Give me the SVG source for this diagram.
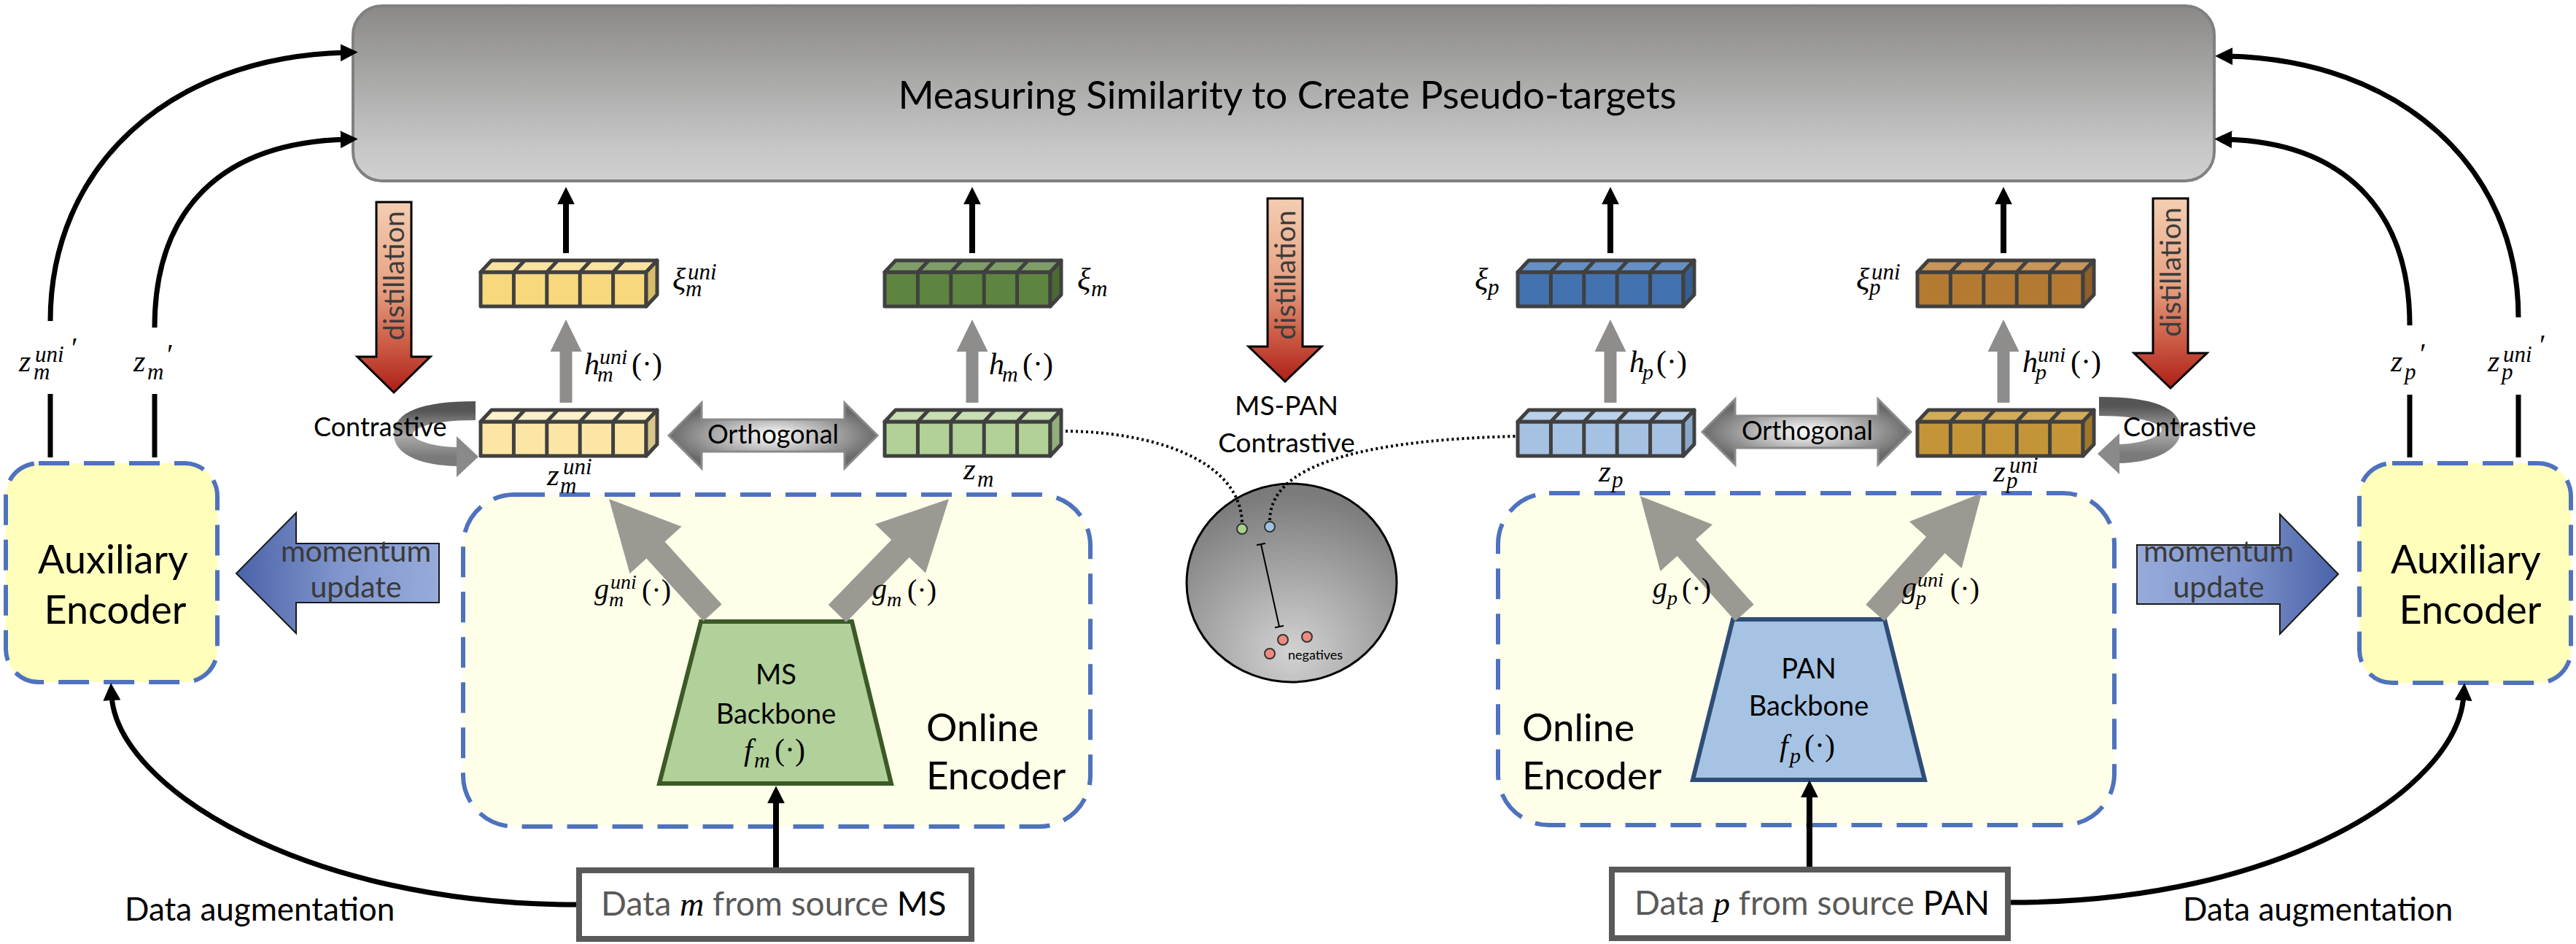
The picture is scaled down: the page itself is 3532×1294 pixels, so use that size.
<svg xmlns="http://www.w3.org/2000/svg" width="3532" height="1294" viewBox="0 0 3532 1294">
<defs>
<style>
text{font-family:Lato,"Open Sans","Liberation Sans",sans-serif;fill:#000;}
.m{font-family:"Liberation Serif","DejaVu Serif",serif;font-style:italic;}
.n{font-style:normal;}
.cube rect,.cube polygon{stroke:#404040;stroke-width:5;stroke-linejoin:round;}
.div{stroke:#404040;stroke-width:5;fill:none;}
.dash{stroke:#4F72BE;stroke-width:6;stroke-dasharray:42 20;}
.curve{fill:none;stroke:#000;stroke-width:7;marker-end:url(#ah);}
.stem{fill:none;stroke:#000;stroke-width:8;marker-end:url(#ah);}
.line{fill:none;stroke:#000;stroke-width:7;}
.garr{fill:#9C9993;}
.harr{fill:#8F8D8B;}
.dist{fill:url(#gDist);stroke:#000;stroke-width:3;}
.distT{font-size:39px;fill:#3c3c3c;}
.dot{fill:none;stroke:#000;stroke-width:4;stroke-dasharray:3 4;}
.orth{fill:url(#gOrth);stroke:#8a8a8a;stroke-width:3;}
.contr{fill:none;stroke:url(#gContr);stroke-width:26;}
.contrH{fill:#8a8a8a;}
.mom{stroke:#1a1a1a;stroke-width:2;}
.momT{font-size:41px;fill:#3a3a3a;}
.dataT{font-size:46px;fill:#595959;}
</style>
<marker id="ah" viewBox="0 0 10 10" refX="3" refY="5" markerWidth="24" markerHeight="24" markerUnits="userSpaceOnUse" orient="auto"><path d="M0,0L10,5L0,10z" fill="#000"/></marker>
<linearGradient id="gMain" x1="0" y1="0" x2="0" y2="1"><stop offset="0" stop-color="#8a8987"/><stop offset="0.8" stop-color="#c6c6c6"/><stop offset="1" stop-color="#d0d0d0"/></linearGradient>
<linearGradient id="gDist" x1="0" y1="0" x2="0" y2="1"><stop offset="0" stop-color="#F4CEB2"/><stop offset="0.45" stop-color="#E6A283"/><stop offset="0.75" stop-color="#CB5B45"/><stop offset="1" stop-color="#AE1F17"/></linearGradient>
<linearGradient id="gMomL" x1="0" y1="0" x2="1" y2="0"><stop offset="0" stop-color="#4A63A8"/><stop offset="0.5" stop-color="#8095CC"/><stop offset="1" stop-color="#97ABDA"/></linearGradient>
<linearGradient id="gMomR" x1="1" y1="0" x2="0" y2="0"><stop offset="0" stop-color="#4A63A8"/><stop offset="0.5" stop-color="#8095CC"/><stop offset="1" stop-color="#97ABDA"/></linearGradient>
<radialGradient id="gOrth" cx="0.5" cy="0.5" r="0.5"><stop offset="0" stop-color="#ffffff"/><stop offset="1" stop-color="#6a6a6a"/></radialGradient>
<linearGradient id="gContr" x1="0" y1="0" x2="0" y2="1"><stop offset="0" stop-color="#555555"/><stop offset="0.55" stop-color="#aaaaaa"/><stop offset="1" stop-color="#7a7a7a"/></linearGradient>
<radialGradient id="gSphere" cx="0.5" cy="0.85" r="0.8"><stop offset="0" stop-color="#d2d2d2"/><stop offset="1" stop-color="#7b7b7b"/></radialGradient>
<path id="cdiv" d="M45.4 0V47M90.8 0V47M136.2 0V47M181.6 0V47M45.4 0L60.4 -16M90.8 0L105.8 -16M136.2 0L151.2 -16M181.6 0L196.6 -16"/>
</defs>
<rect width="3532" height="1294" fill="#fff"/>

<g id="similarity">
<rect x="484" y="8" width="2552" height="240" rx="40" fill="url(#gMain)" stroke="#808080" stroke-width="4"/>
<text x="1765" y="149" font-size="53" text-anchor="middle">Measuring Similarity to Create Pseudo-targets</text>
</g>

<g id="aux_ms">
<rect x="8" y="635" width="290" height="300" rx="45" fill="#FFFFBB" class="dash"/>
<text x="155" y="786" font-size="54" text-anchor="middle">Auxiliary</text>
<text x="158" y="855" font-size="54" text-anchor="middle">Encoder</text>
</g>
<g id="aux_pan">
<rect x="3235" y="635" width="290" height="301" rx="45" fill="#FFFFBB" class="dash"/>
<text x="3381" y="786" font-size="54" text-anchor="middle">Auxiliary</text>
<text x="3387" y="855" font-size="54" text-anchor="middle">Encoder</text>
</g>

<g id="online_ms">
<rect x="635" y="678" width="860" height="455" rx="70" fill="#FEFEE9" class="dash"/>
<text x="1270" y="1016" font-size="53">Online</text>
<text x="1270" y="1082" font-size="53">Encoder</text>
</g>
<g id="online_pan">
<rect x="2054" y="676" width="845" height="455" rx="70" fill="#FEFEE9" class="dash"/>
<text x="2087" y="1016" font-size="53">Online</text>
<text x="2087" y="1082" font-size="53">Encoder</text>
</g>

<g id="backbone_ms">
<polygon points="961,852 1168,852 1222,1074 904,1074" fill="#B2D09A" stroke="#3B5A26" stroke-width="6"/>
<text x="1064" y="938" font-size="38" text-anchor="middle">MS</text>
<text x="1064" y="992" font-size="38" text-anchor="middle">Backbone</text>
<text class="m" font-size="42"><tspan x="1020" y="1042">f</tspan><tspan x="1034" y="1052" font-size="30">m</tspan><tspan class="n" x="1062" y="1042">(·)</tspan></text>
</g>
<g id="backbone_pan">
<polygon points="2376,849 2584,849 2639,1069 2321,1069" fill="#A7C3E3" stroke="#2E4E78" stroke-width="6"/>
<text x="2480" y="930" font-size="38" text-anchor="middle">PAN</text>
<text x="2480" y="981" font-size="38" text-anchor="middle">Backbone</text>
<text class="m" font-size="42"><tspan x="2440" y="1036">f</tspan><tspan x="2454" y="1046" font-size="30">p</tspan><tspan class="n" x="2474" y="1036">(·)</tspan></text>
</g>

<g id="data_ms">
<rect x="794" y="1193" width="538" height="94" fill="#fff" stroke="#595959" stroke-width="8"/>
<text x="824" y="1255" class="dataT"><tspan>Data </tspan><tspan class="m" fill="#000">m</tspan><tspan> from source </tspan><tspan fill="#000">MS</tspan></text>
</g>
<g id="data_pan">
<rect x="2210" y="1192" width="543" height="94" fill="#fff" stroke="#595959" stroke-width="8"/>
<text x="2241" y="1254" class="dataT"><tspan>Data </tspan><tspan class="m" fill="#000">p</tspan><tspan> from source </tspan><tspan fill="#000">PAN</tspan></text>
</g>

<g id="xi_m_uni">
<g class="cube" transform="translate(659,373)">
<rect width="227" height="47" fill="#F7D87C"/>
<polygon points="0,0 15,-16 242,-16 227,0" fill="#FAE3A1"/>
<polygon points="227,0 242,-16 242,31 227,47" fill="#D9BC6A"/>
<use href="#cdiv" class="div"/>
</g>
<text class="m" font-size="43"><tspan x="922" y="397">ξ</tspan><tspan x="943" y="383" font-size="31">uni</tspan><tspan x="940" y="406" font-size="31">m</tspan></text>
</g>
<g id="z_m_uni">
<g class="cube" transform="translate(659,578)">
<rect width="227" height="47" fill="#FBE6A6"/>
<polygon points="0,0 15,-16 242,-16 227,0" fill="#FDF0CA"/>
<polygon points="227,0 242,-16 242,31 227,47" fill="#D9C58A"/>
<use href="#cdiv" class="div"/>
</g>
<text class="m" font-size="43"><tspan x="750" y="665">z</tspan><tspan x="772" y="650" font-size="31">uni</tspan><tspan x="768" y="676" font-size="31">m</tspan></text>
</g>
<g id="xi_m">
<g class="cube" transform="translate(1213,373)">
<rect width="227" height="47" fill="#5E853F"/>
<polygon points="0,0 15,-16 242,-16 227,0" fill="#7F9D68"/>
<polygon points="227,0 242,-16 242,31 227,47" fill="#4A6A31"/>
<use href="#cdiv" class="div"/>
</g>
<text class="m" font-size="43"><tspan x="1477" y="397">ξ</tspan><tspan x="1496" y="406" font-size="31">m</tspan></text>
</g>
<g id="z_m">
<g class="cube" transform="translate(1213,578)">
<rect width="227" height="47" fill="#B1D196"/>
<polygon points="0,0 15,-16 242,-16 227,0" fill="#C8DFB4"/>
<polygon points="227,0 242,-16 242,31 227,47" fill="#92AE7B"/>
<use href="#cdiv" class="div"/>
</g>
<text class="m" font-size="43"><tspan x="1321" y="657">z</tspan><tspan x="1340" y="667" font-size="31">m</tspan></text>
</g>
<g id="xi_p">
<g class="cube" transform="translate(2081,373)">
<rect width="227" height="47" fill="#4372B0"/>
<polygon points="0,0 15,-16 242,-16 227,0" fill="#6690C4"/>
<polygon points="227,0 242,-16 242,31 227,47" fill="#355E92"/>
<use href="#cdiv" class="div"/>
</g>
<text class="m" font-size="43"><tspan x="2022" y="397">ξ</tspan><tspan x="2040" y="404" font-size="31">p</tspan></text>
</g>
<g id="z_p">
<g class="cube" transform="translate(2081,578)">
<rect width="227" height="47" fill="#A6C2E2"/>
<polygon points="0,0 15,-16 242,-16 227,0" fill="#BAD1EB"/>
<polygon points="227,0 242,-16 242,31 227,47" fill="#8AA7C9"/>
<use href="#cdiv" class="div"/>
</g>
<text class="m" font-size="43"><tspan x="2192" y="660">z</tspan><tspan x="2210" y="668" font-size="31">p</tspan></text>
</g>
<g id="xi_p_uni">
<g class="cube" transform="translate(2629,373)">
<rect width="227" height="47" fill="#B47A32"/>
<polygon points="0,0 15,-16 242,-16 227,0" fill="#C8955A"/>
<polygon points="227,0 242,-16 242,31 227,47" fill="#8F5F27"/>
<use href="#cdiv" class="div"/>
</g>
<text class="m" font-size="43"><tspan x="2545" y="397">ξ</tspan><tspan x="2566" y="383" font-size="31">uni</tspan><tspan x="2563" y="404" font-size="31">p</tspan></text>
</g>
<g id="z_p_uni">
<g class="cube" transform="translate(2629,578)">
<rect width="227" height="47" fill="#C49538"/>
<polygon points="0,0 15,-16 242,-16 227,0" fill="#D3AC5A"/>
<polygon points="227,0 242,-16 242,31 227,47" fill="#9E772A"/>
<use href="#cdiv" class="div"/>
</g>
<text class="m" font-size="43"><tspan x="2733" y="660">z</tspan><tspan x="2755" y="648" font-size="31">uni</tspan><tspan x="2751" y="669" font-size="31">p</tspan></text>
</g>

<g id="embedding_space">
<ellipse cx="1771" cy="799" rx="144" ry="136" fill="url(#gSphere)" stroke="#000" stroke-width="3"/>
<path d="M1729 746L1754 859M1723 747.3L1735 744.7M1748 860.3L1760 857.7" stroke="#000" stroke-width="2" fill="none"/>
<circle cx="1759" cy="877" r="7" fill="#F08A80" stroke="#333" stroke-width="2"/>
<circle cx="1792" cy="873" r="7" fill="#F08A80" stroke="#333" stroke-width="2"/>
<circle cx="1741" cy="896" r="7" fill="#F08A80" stroke="#333" stroke-width="2"/>
<text x="1766" y="904" font-size="18" fill="#222">negatives</text>
</g>

<g id="connectors">
<path class="curve" d="M69 440C69 230 230 78 474 72"/>
<path class="curve" d="M212 449C212 290 300 196 474 191"/>
<path class="curve" d="M3453 435C3453 230 3292 82 3054 77"/>
<path class="curve" d="M3304 446C3304 290 3216 196 3053 191"/>
<path class="line" d="M69 540V627M212 540V627M3304 541V627M3453 541V627"/>
<text class="m" font-size="42"><tspan x="26" y="509">z</tspan><tspan x="48" y="496" font-size="31">uni</tspan><tspan x="46" y="520" font-size="31">m</tspan><tspan class="n" x="98" y="490" font-size="40">′</tspan></text>
<text class="m" font-size="42"><tspan x="183" y="509">z</tspan><tspan x="202" y="520" font-size="31">m</tspan><tspan class="n" x="229" y="499" font-size="40">′</tspan></text>
<text class="m" font-size="42"><tspan x="3278" y="509">z</tspan><tspan x="3297" y="520" font-size="31">p</tspan><tspan class="n" x="3318" y="498" font-size="40">′</tspan></text>
<text class="m" font-size="42"><tspan x="3411" y="509">z</tspan><tspan x="3432" y="496" font-size="31">uni</tspan><tspan x="3430" y="520" font-size="31">p</tspan><tspan class="n" x="3482" y="486" font-size="40">′</tspan></text>

<path class="stem" d="M776 347V273"/>
<path class="stem" d="M1333 347V273"/>
<path class="stem" d="M2208 347V273"/>
<path class="stem" d="M2747 347V273"/>
<polygon class="harr" points="767.5,552 767.5,482 754.5,482 776,438 797.5,482 784.5,482 784.5,552"/>
<polygon class="harr" points="1324.5,552 1324.5,482 1311.5,482 1333,438 1354.5,482 1341.5,482 1341.5,552"/>
<polygon class="harr" points="2199.5,552 2199.5,482 2186.5,482 2208,438 2229.5,482 2216.5,482 2216.5,552"/>
<polygon class="harr" points="2738.5,552 2738.5,482 2725.5,482 2747,438 2768.5,482 2755.5,482 2755.5,552"/>
<text class="m" font-size="42"><tspan x="801" y="513">h</tspan><tspan x="822" y="499" font-size="30">uni</tspan><tspan x="819" y="523" font-size="30">m</tspan><tspan class="n" x="866" y="513">(·)</tspan></text>
<text class="m" font-size="42"><tspan x="1356" y="513">h</tspan><tspan x="1374" y="523" font-size="30">m</tspan><tspan class="n" x="1402" y="513">(·)</tspan></text>
<text class="m" font-size="42"><tspan x="2234" y="510">h</tspan><tspan x="2252" y="520" font-size="30">p</tspan><tspan class="n" x="2271" y="510">(·)</tspan></text>
<text class="m" font-size="42"><tspan x="2773" y="510">h</tspan><tspan x="2794" y="496" font-size="30">uni</tspan><tspan x="2791" y="520" font-size="30">p</tspan><tspan class="n" x="2839" y="510">(·)</tspan></text>

<polygon class="garr" points="835,684 934.5,721.7 911.6,742.6 989.6,828.6 964.4,851.4 886.4,765.4 863.5,786.3"/>
<polygon class="garr" points="1301,684 1200,718.4 1222.3,740 1135.8,829 1160.2,853 1246.7,764 1269,785.6"/>
<polygon class="garr" points="2249,680 2348.1,718.9 2325,739.6 2404.7,828.7 2379.3,851.3 2299.6,762.2 2276.5,782.9"/>
<polygon class="garr" points="2717,676 2617.9,715.1 2641.1,735.7 2558.3,828.7 2583.7,851.3 2666.5,758.3 2689.7,778.9"/>
<text class="m" font-size="40"><tspan x="815" y="821">g</tspan><tspan x="837" y="807" font-size="28">uni</tspan><tspan x="835" y="831" font-size="28">m</tspan><tspan class="n" x="880" y="822">(·)</tspan></text>
<text class="m" font-size="40"><tspan x="1196" y="821">g</tspan><tspan x="1216" y="831" font-size="28">m</tspan><tspan class="n" x="1244" y="822">(·)</tspan></text>
<text class="m" font-size="40"><tspan x="2266" y="819">g</tspan><tspan x="2286" y="829" font-size="28">p</tspan><tspan class="n" x="2306" y="820">(·)</tspan></text>
<text class="m" font-size="40"><tspan x="2608" y="819">g</tspan><tspan x="2629" y="804" font-size="28">uni</tspan><tspan x="2627" y="829" font-size="28">p</tspan><tspan class="n" x="2674" y="820">(·)</tspan></text>

<polygon class="orth" points="917,597 962,552 962,575 1158,575 1158,552 1203,597 1158,642 1158,619 962,619 962,642"/>
<text x="1060" y="608" font-size="36" text-anchor="middle">Orthogonal</text>
<polygon class="orth" points="2334,592 2379,547 2379,570 2575,570 2575,547 2620,592 2575,637 2575,614 2379,614 2379,637"/>
<text x="2478" y="603" font-size="36" text-anchor="middle">Orthogonal</text>

<path class="contr" d="M652 563C578 563 553 578 553 595C553 612 580 625 628 626"/>
<polygon class="contrH" points="626,598 656,626 626,654"/>
<text x="430" y="598" font-size="36">Contrastive</text>
<path class="contr" d="M2878 557C2952 557 2977 572 2977 589C2977 606 2950 621 2904 622"/>
<polygon class="contrH" points="2906,594 2876,622 2906,650"/>
<text x="2911" y="598" font-size="36">Contrastive</text>

<polygon class="dist" points="516,277 564,277 564,489 590,489 540,538 490,489 516,489"/>
<text class="distT" transform="translate(540,378) rotate(-90)" text-anchor="middle" dy="0.35em">distillation</text>
<polygon class="dist" points="1738,272 1786,272 1786,475 1812,475 1762,523 1712,475 1738,475"/>
<text class="distT" transform="translate(1762,377) rotate(-90)" text-anchor="middle" dy="0.35em">distillation</text>
<polygon class="dist" points="2952,272 3000,272 3000,484 3026,484 2976,532 2926,484 2952,484"/>
<text class="distT" transform="translate(2976,373) rotate(-90)" text-anchor="middle" dy="0.35em">distillation</text>
<text x="1764" y="569" font-size="37" text-anchor="middle">MS-PAN</text>
<text x="1764" y="620" font-size="37" text-anchor="middle">Contrastive</text>

<path class="dot" d="M1461 591C1580 592 1700 630 1703 716"/>
<path class="dot" d="M1741 713C1742 660 1800 605 2078 598"/>
<circle cx="1703" cy="725" r="7" fill="#A9D18E" stroke="#333" stroke-width="2"/>
<circle cx="1741" cy="722" r="7" fill="#9DC3E6" stroke="#333" stroke-width="2"/>

<polygon class="mom" fill="url(#gMomL)" points="324,786 406,703 406,745 602,745 602,826 406,826 406,868"/>
<text class="momT" x="488" y="770" text-anchor="middle">momentum</text>
<text class="momT" x="488" y="819" text-anchor="middle">update</text>
<polygon class="mom" fill="url(#gMomR)" points="3206,787 3126,705 3126,747 2930,747 2930,828 3126,828 3126,869"/>
<text class="momT" x="3042" y="770" text-anchor="middle">momentum</text>
<text class="momT" x="3042" y="819" text-anchor="middle">update</text>

<path class="stem" d="M1064 1189V1094"/>
<path class="stem" d="M2481 1188V1086"/>
<path class="curve" d="M790 1240C420 1240 160 1080 153 953"/>
<path class="curve" d="M2757 1237C3130 1237 3370 1080 3378 953"/>
<text x="171" y="1262" font-size="44">Data augmentation</text>
<text x="2993" y="1262" font-size="44">Data augmentation</text>
</g>
</svg>
